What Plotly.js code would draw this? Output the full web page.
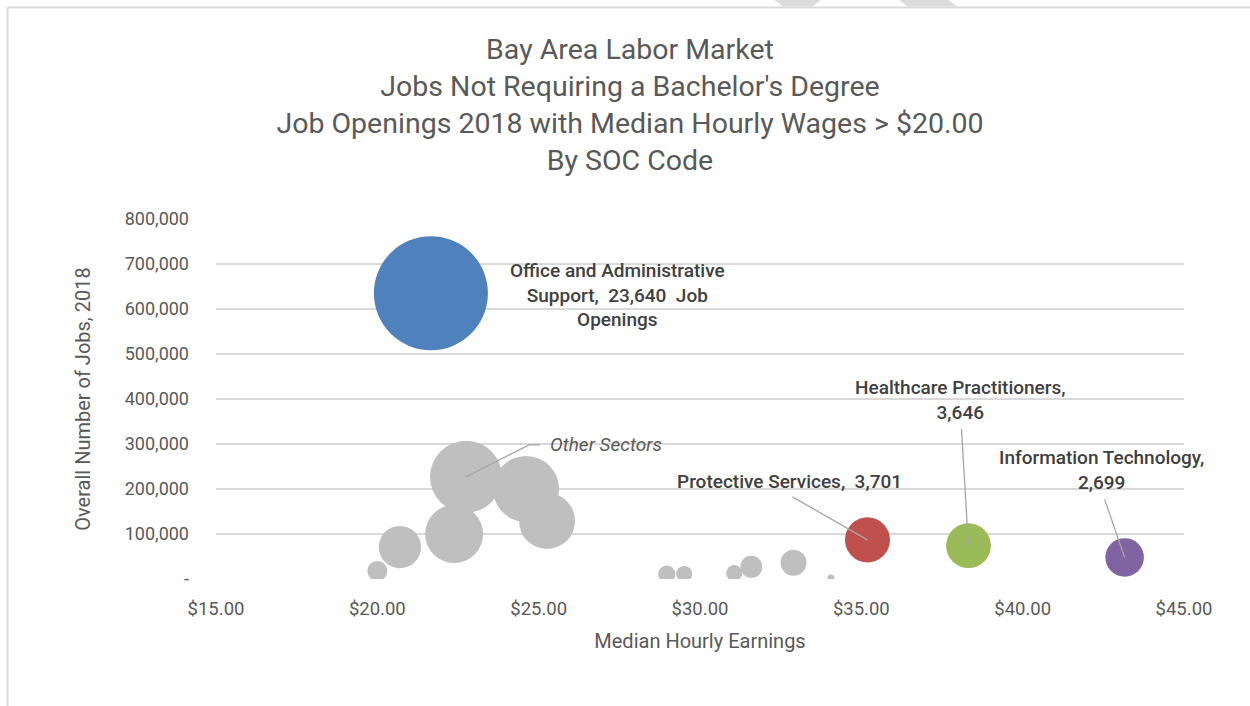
<!DOCTYPE html>
<html>
<head>
<meta charset="utf-8">
<script src="https://cdn.plot.ly/plotly-3.0.1.min.js"></script>
<style>
  html, body { margin: 0; padding: 0; background: #ffffff; }
  #chart { width: 1250px; height: 706px; }
</style>
</head>
<body>
<div id="chart"></div>
<script>
// ---------- DATA ----------
// Highlighted sectors
const sectorNames   = ["Office and Administrative Support", "Protective Services", "Healthcare Practitioners", "Information Technology"];
const sectorWages   = [21.66, 35.19, 38.32, 43.16];          // median hourly earnings ($)
const sectorJobs    = [635000, 87000, 74000, 48000];         // overall number of jobs, 2018
const sectorOpen    = [23640, 3701, 3646, 2699];             // job openings 2018 (bubble size)
const sectorColors  = ["#4f81bd", "#c0504d", "#9bbb59", "#8064a2"];

// Other sectors (grey bubbles)
const otherWages = [20.00, 20.70, 22.38, 22.75, 24.61, 25.26, 28.97, 29.51, 31.06, 31.59, 32.90, 34.06];
const otherJobs  = [18000, 71000, 100000, 227000, 200000, 129000, 11000, 11000, 13000, 27000, 36000, 2000];
const otherOpen  = [730, 3250, 6120, 9430, 7930, 5700, 540, 470, 470, 880, 1230, 90];

// Axis ticks
const yTickVals = [0, 100000, 200000, 300000, 400000, 500000, 600000, 700000, 800000];
const yTickText = ["-", "100,000", "200,000", "300,000", "400,000", "500,000", "600,000", "700,000", "800,000"];
const xTickVals = [15, 20, 25, 30, 35, 40, 45];

// ---------- STYLE ----------
const FONT = "Roboto, 'Liberation Sans', sans-serif";
const TXT = "#595959";
const LBL = "#404040";
const LEAD = "#a6a6a6";
const MAXD = 114;                                   // px diameter of the largest bubble
const SIZEREF = 2 * Math.max(...sectorOpen) / (MAXD * MAXD);

// plot area in pixels (for paper-coordinate decorations)
const M = { l: 216, r: 66, t: 219, b: 127 };
const FW = 1250, FH = 706;
const PW = FW - M.l - M.r, PH = FH - M.t - M.b;
const px = v => (v - M.l) / PW;
const py = v => (M.t + PH - v) / PH;

const traces = [
  {
    type: "scatter", mode: "markers", name: "Other Sectors",
    x: otherWages, y: otherJobs,
    marker: { size: otherOpen, sizemode: "area", sizeref: SIZEREF, color: "#bfbfbf", opacity: 1, line: { width: 0 } },
    hoverinfo: "x+y", showlegend: false
  }
];
sectorNames.forEach((n, i) => {
  traces.push({
    type: "scatter", mode: "markers", name: n,
    x: [sectorWages[i]], y: [sectorJobs[i]],
    marker: { size: [sectorOpen[i]], sizemode: "area", sizeref: SIZEREF, color: sectorColors[i], opacity: 1, line: { width: 0 } },
    hoverinfo: "name+x+y", showlegend: false
  });
});

// ---------- LABELS (anchored to bubbles, offsets in px) ----------
const fmt = v => v.toLocaleString("en-US");
const labelCfg = [
  { i: 0, text: "Office and Administrative<br>Support,  " + fmt(sectorOpen[0]) + "  Job<br>Openings", dx: 187, dy: -2, lead: null },
  { i: 1, text: sectorNames[1] + ",  " + fmt(sectorOpen[1]), dx: -78, dy: 58, lead: [-75, 43] },
  { i: 2, text: sectorNames[2] + ",<br>" + fmt(sectorOpen[2]), dx: -8, dy: 146, lead: [-7, 117] },
  { i: 3, text: sectorNames[3] + ",<br>" + fmt(sectorOpen[3]), dx: -23, dy: 87, lead: [-20, 58] }
];

const annotations = labelCfg.map(c => ({
  x: sectorWages[c.i], y: sectorJobs[c.i], xref: "x", yref: "y",
  text: c.text, showarrow: false, xshift: c.dx, yshift: c.dy,
  xanchor: "center", yanchor: "middle", align: "center",
  font: { family: FONT, size: 19, color: LBL, weight: 500 }
}));
// "Other Sectors" label (anchored to the largest grey bubble)
const bigOther = otherOpen.indexOf(Math.max(...otherOpen));
annotations.push({
  x: otherWages[bigOther], y: otherJobs[bigOther], xref: "x", yref: "y",
  text: "<i>Other Sectors</i>", showarrow: false, xshift: 82, yshift: 32,
  xanchor: "left", yanchor: "middle",
  font: { family: FONT, size: 19, color: TXT }
});

const shapes = [];
labelCfg.forEach(c => {
  if (!c.lead) return;
  shapes.push({
    type: "line", xref: "x", yref: "y",
    xsizemode: "pixel", ysizemode: "pixel",
    xanchor: sectorWages[c.i], yanchor: sectorJobs[c.i],
    x0: 0, y0: 0, x1: c.lead[0], y1: c.lead[1],
    line: { color: LEAD, width: 1.3 }
  });
});
// leader for Other Sectors (elbow)
shapes.push({
  type: "path", xref: "x", yref: "y", xsizemode: "pixel", ysizemode: "pixel",
  xanchor: otherWages[bigOther], yanchor: otherJobs[bigOther],
  path: "M0,0 L63,32 L74,32",
  line: { color: LEAD, width: 1.3 }
});

// chart frame (top and left edges visible) and watermark fragments
shapes.push({ type: "line", xref: "paper", yref: "paper", x0: px(7.5), x1: px(1252), y0: py(7.5), y1: py(7.5), line: { color: "#d9d9d9", width: 2 } });
shapes.push({ type: "line", xref: "paper", yref: "paper", x0: px(7.5), x1: px(7.5), y0: py(7.5), y1: py(708), line: { color: "#d9d9d9", width: 2 } });
shapes.push({ type: "path", xref: "paper", yref: "paper", fillcolor: "#dcdcdc", line: { width: 0 },
  path: `M${px(773)},${py(-1)} L${px(822)},${py(-1)} L${px(813)},${py(6.5)} L${px(783)},${py(6.5)} Z` });
shapes.push({ type: "path", xref: "paper", yref: "paper", fillcolor: "#dcdcdc", line: { width: 0 },
  path: `M${px(898)},${py(-1)} L${px(947)},${py(-1)} L${px(957)},${py(6.5)} L${px(907)},${py(6.5)} Z` });

const layout = {
  width: FW, height: FH,
  margin: M,
  paper_bgcolor: "#ffffff", plot_bgcolor: "#ffffff",
  font: { family: FONT, color: TXT },
  title: {
    text: "Bay Area Labor Market<br>Jobs Not Requiring a Bachelor's Degree<br>Job Openings 2018 with Median Hourly Wages > $20.00<br>By SOC Code",
    font: { family: FONT, size: 28.5, color: TXT },
    x: 630 / FW, xanchor: "center", xref: "container",
    y: 1 - 59 / FH, yanchor: "top", yref: "container"
  },
  xaxis: {
    range: [15, 45], tickvals: xTickVals, tickformat: "$.2f",
    showgrid: false, zeroline: false, showline: false, ticks: "",
    tickfont: { family: FONT, size: 18.5, color: TXT },
    ticklabelstandoff: 16,
    title: { text: "Median Hourly Earnings", font: { family: FONT, size: 20, color: TXT }, standoff: 15 },
    fixedrange: true
  },
  yaxis: {
    range: [0, 800000], tickvals: yTickVals, ticktext: yTickText,
    showgrid: true, gridcolor: "#d9d9d9", gridwidth: 1.3,
    zeroline: false, showline: false, ticks: "",
    tickfont: { family: FONT, size: 18, color: TXT },
    ticklabelstandoff: 26,
    title: { text: "Overall Number of Jobs, 2018", font: { family: FONT, size: 20, color: TXT }, standoff: 28 },
    fixedrange: true
  },
  annotations: annotations,
  shapes: shapes,
  showlegend: false
};

Plotly.newPlot("chart", traces, layout, { displayModeBar: false, staticPlot: true });
</script>
</body>
</html>
